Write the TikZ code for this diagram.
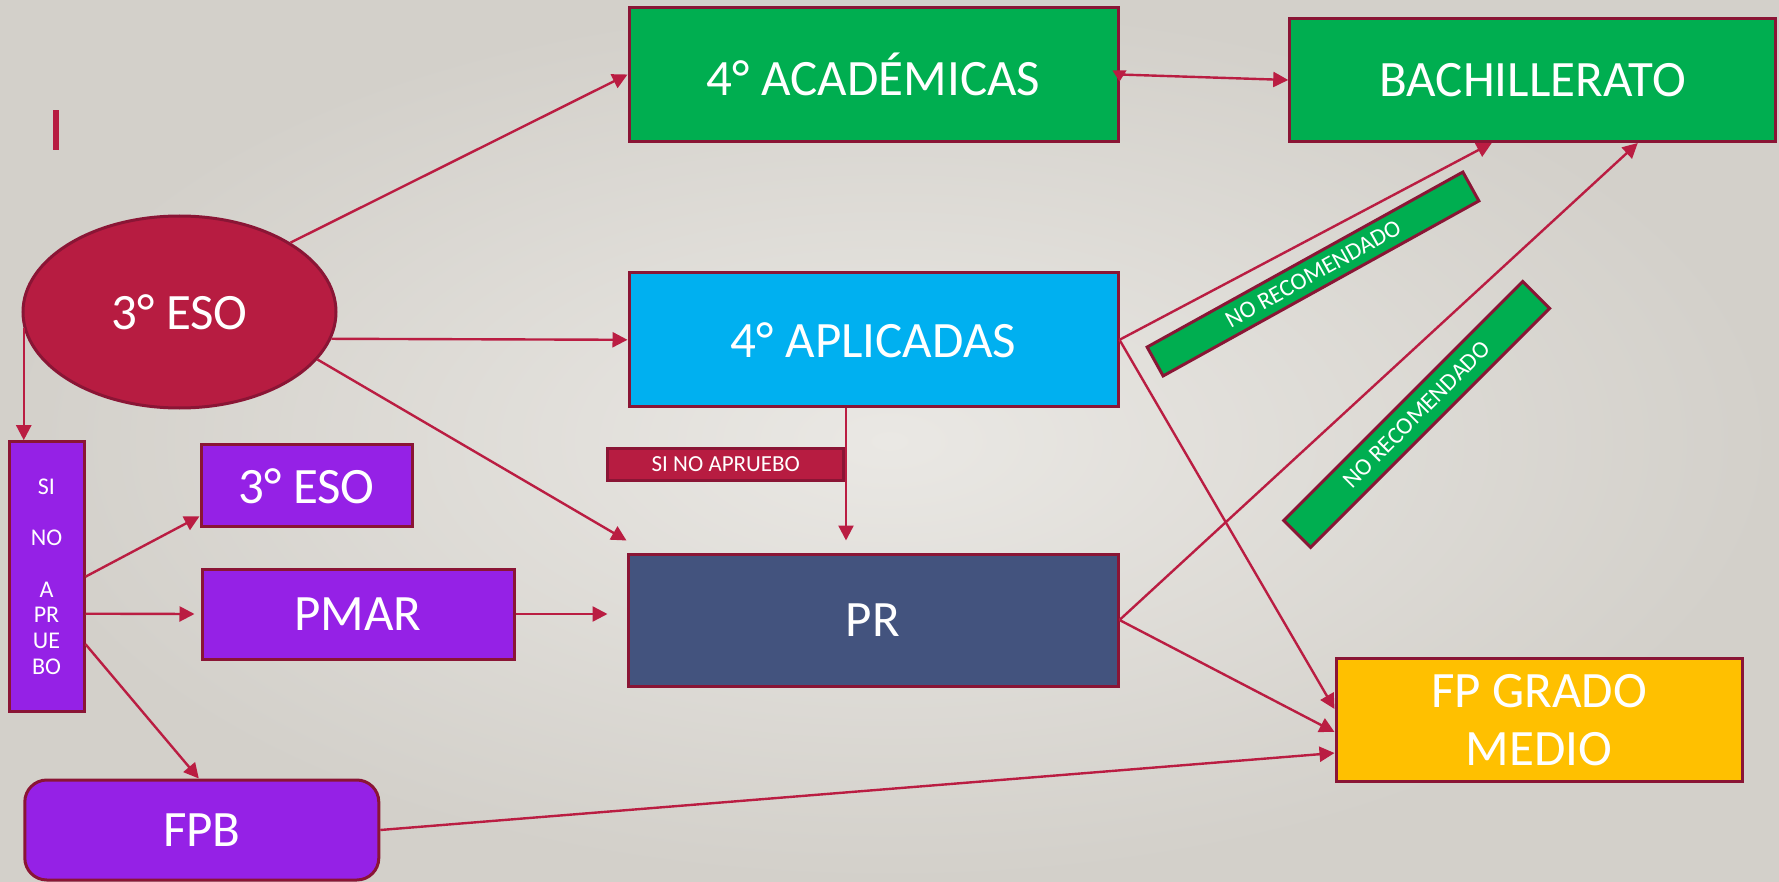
\documentclass[tikz,border=0pt]{standalone}
\usepackage{fontspec}
\setmainfont{Carlito}
\usetikzlibrary{shapes.geometric,arrows.meta,calc}
\definecolor{bgin}{HTML}{EAE8E4}
\definecolor{bgout}{HTML}{D3D0CA}
\definecolor{edgec}{HTML}{8A1535}
\definecolor{arrc}{HTML}{BA1D42}
\definecolor{grn}{HTML}{00AE50}
\definecolor{blu}{HTML}{00B0F0}
\definecolor{slt}{HTML}{43537E}
\definecolor{pur}{HTML}{9521E6}
\definecolor{yel}{HTML}{FFC000}
\definecolor{crm}{HTML}{B71C41}
\newcommand\bigtxt{\fontsize{51}{58}\selectfont}
\newcommand\smtxt{\fontsize{23}{26}\selectfont}
\newcommand\bandtxt{\fontsize{24}{28}\selectfont}
\newcommand\sinotxt{\fontsize{24}{25.7}\selectfont}
\tikzset{
  box/.style={rectangle, draw=edgec, line width=3pt, inner sep=0pt, text=white, font=\bigtxt, align=center},
  conn/.style={draw=arrc, line width=2.4pt, -{Triangle[length=15pt,width=15pt]}},
  band/.style={rectangle, draw=edgec, fill=grn, line width=3pt, inner sep=0pt, text=white, font=\bandtxt},
}
\begin{document}
\begin{tikzpicture}[x=1pt,y=-1pt]
\useasboundingbox (0,0) rectangle (1779,882);
\shade[inner color=bgin, outer color=bgout] (0,0) rectangle (1779,882);
\fill[crm] (53,110) rectangle (59,150);

% nodes
\node[box, fill=grn, minimum width=489pt, minimum height=134pt] (acad) at (873.5,74.5) {4° ACADÉMICAS};
\node[box, fill=grn, minimum width=486pt, minimum height=123pt] (bach) at (1532.75,80) {BACHILLERATO};
\node[ellipse, draw=edgec, fill=crm, line width=3pt, inner sep=0pt, minimum width=313pt, minimum height=192pt, text=white, font=\bigtxt] (ell) at (179.5,312) {3° ESO};
\node[box, fill=blu, minimum width=489pt, minimum height=134pt] (apl) at (873.5,339.8) {4° APLICADAS};
\node[box, fill=slt, minimum width=490pt, minimum height=132pt] (pr) at (873,620) {PR};
\node[box, fill=crm, minimum width=236pt, minimum height=32pt, font=\smtxt] (sinolbl) at (725.8,464) {SI NO APRUEBO};
\node[box, fill=pur, minimum width=75pt, minimum height=270pt, font=\sinotxt] (sino) at (46.5,576.7) {SI\\[25.7pt]NO\\[25.7pt]A\\PR\\UE\\BO};
\node[box, fill=pur, minimum width=211pt, minimum height=82pt] (eso2) at (306.5,485.8) {3° ESO};
\node[box, fill=pur, minimum width=312pt, minimum height=90pt] (pmar) at (358,614) {PMAR};
\node[box, fill=pur, rounded corners=22pt, minimum width=354pt, minimum height=100pt] (fpb) at (201.8,830) {FPB};
\node[box, fill=yel, minimum width=406pt, minimum height=123pt] (fpgm) at (1539,720.4) {FP GRADO\\MEDIO};
\node[band, rotate=29, minimum width=361pt, minimum height=33pt] (band1) at (1313,274) {NO RECOMENDADO};
\node[band, rotate=45, minimum width=338pt, minimum height=38pt] (band2) at (1416.7,414.5) {NO RECOMENDADO};

% helper coordinates
\coordinate (prin) at ($(pr.north west)+(0,-12)$);
\coordinate (vtop) at ($(apl.south)+(-27.5,0)$);
\coordinate (vbot) at ($(pr.north)+(-27,-12)$);
\coordinate (prgap) at ($(pr.west)+(-19,0)$);

% connectors
\draw[conn] (ell.32) -- (acad.west);
\draw[conn] (ell.-10) -- (apl.west);
\draw[conn] (ell.-19) -- (prin);
\draw[conn] (vtop) -- (vbot);
\draw[conn] (pmar.east) -- (pmar.east -| prgap);
\draw[conn] (acad.east) -- (bach.west);
\fill[arrc] ($(acad.east)+(-7,-4)$) -- ($(acad.east)+(7,-4)$) -- ($(acad.east)+(0,7)$) -- cycle;
\draw[conn] (apl.east) -- ($(bach.south)+(-41,0)$);
\draw[conn] (apl.east) -- ($(fpgm.west)+(0,-11.4)$);
\draw[conn] (pr.east) -- ($(bach.south)+(105,0)$);
\draw[conn] (pr.east) -- ($(fpgm.west)+(0,11.6)$);
\draw[conn] (fpb.east) -- ($(fpgm.west)+(0,32.6)$);
\draw[conn] (ell.186) -- (ell.186 |- sino.north);
\draw[conn] (sino.east) -- ($(eso2.south west)+(0,-12)$);
\draw[conn] ($(sino.east)+(0,37)$) -- ($(pmar.west)+(-6,0)$);
\draw[conn] ($(sino.east)+(0,67.5)$) -- ($(fpb.north)+(-3,0)$);
\end{tikzpicture}
\end{document}
